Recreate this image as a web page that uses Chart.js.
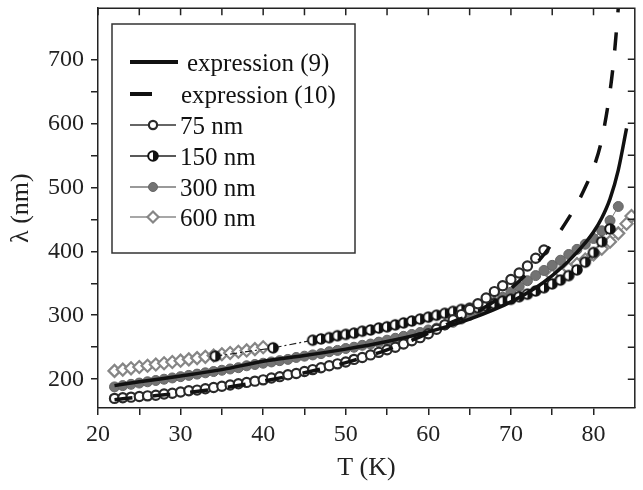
<!DOCTYPE html>
<html>
<head>
<meta charset="utf-8">
<script src="https://cdn.jsdelivr.net/npm/chart.js@4.4.0/dist/chart.umd.min.js"></script>
<style>
  html, body { margin: 0; padding: 0; background: #fff; }
  #wrap { width: 643px; height: 490px; }
</style>
</head>
<body>
<div id="wrap"><canvas id="lambda-chart" width="643" height="490"></canvas></div>
<script>
// expression (9) - solid curve
const tExp9 = [22, 25, 30, 35, 40, 45, 50, 55, 60, 65, 70, 73, 75, 77, 79, 80, 81, 82, 83, 84];
const lExp9 = [190, 196, 205, 215, 228, 237, 247, 259, 274, 294, 321, 343, 362, 385, 413, 430, 452, 482, 527, 592];

// expression (10) - dashed curve
const tExp10 = [22, 25, 30, 35, 40, 45, 50, 55, 60, 63, 65, 68, 70, 72, 74, 76, 78, 79, 80, 81, 82, 82.5, 83];
const lExp10 = [168, 172, 178, 186, 197, 210, 226, 246, 272, 290, 300, 322, 342, 366, 395, 432, 474, 500, 530, 575, 650, 705, 780];

// 75 nm
const t75 = [22, 23, 24, 25, 26, 27, 28, 29, 30, 31, 32, 33, 34, 35, 36, 37, 38, 39, 40, 41, 42, 43, 44, 45, 46, 47, 48,
  49, 50, 51, 52, 53, 54, 55, 56, 57, 58, 59, 60, 61, 62, 63, 64, 65, 66, 67, 68, 69, 70, 71, 72, 73, 74];
const l75 = [170, 171, 172, 173, 174, 175, 177, 178, 180, 182, 183, 185, 187, 189, 191, 193, 195, 197, 199, 202, 204, 207,
  209, 212, 215, 218, 221, 224, 227, 231, 234, 238, 242, 246, 250, 255, 260, 265, 271, 278, 285, 293, 301, 309, 318, 327,
  337, 346, 356, 366, 377, 389, 402];

// 150 nm
const t150 = [34.2, 41.2, 46, 47, 48, 49, 50, 51, 52, 53, 54, 55, 56, 57, 58, 59, 60, 61, 62, 63, 64, 65, 66, 67, 68, 69,
  70, 71, 72, 73, 74, 75, 76, 77, 78, 79, 80, 81, 82];
const l150 = [236, 249, 261, 263, 265, 268, 270, 272, 275, 277, 280, 282, 285, 288, 291, 294, 297, 300, 303, 306, 309, 311,
  312, 315, 318, 322, 325, 329, 333, 338, 343, 349, 355, 362, 371, 383, 398, 415, 435];

// 300 nm
const t300 = [22, 23, 24, 25, 26, 27, 28, 29, 30, 31, 32, 33, 34, 35, 36, 37, 38, 39, 40, 41, 42, 43, 44, 45, 46, 47, 48,
  49, 50, 51, 52, 53, 54, 55, 56, 57, 58, 59, 60, 61, 62, 63, 64, 65, 66, 67, 68, 69, 70, 71, 72, 73, 74, 75, 76, 77, 78,
  79, 80, 81, 82, 83];
const l300 = [188, 190, 192, 194, 196, 198, 200, 202, 204, 206, 208, 210, 212, 214, 216, 218, 221, 223, 225, 227, 229, 231,
  234, 236, 238, 240, 243, 245, 248, 250, 253, 255, 258, 261, 264, 267, 270, 273, 277, 280, 285, 289, 294, 300, 306, 313,
  320, 328, 336, 345, 354, 362, 370, 378, 386, 395, 403, 411, 420, 432, 448, 470];

// 600 nm (no visible points between ~40 K and ~75 K)
const t600 = [22, 23, 24, 25, 26, 27, 28, 29, 30, 31, 32, 33, 34, 35, 36, 37, 38, 39, 40, 57, 75, 76, 77, 78, 79, 80, 81,
  82, 83, 84, 84.6];
const l600 = [213, 215, 217, 219, 221, 223, 225, 227, 229, 231, 233, 235, 237, 239, 241, 243, 245, 247, 250, null, 362, 367,
  373, 380, 387, 395, 404, 415, 428, 443, 455];

const xTicks = [20, 30, 40, 50, 60, 70, 80];
const yTicks = [200, 300, 400, 500, 600, 700];

const serif = "'Liberation Serif', 'Times New Roman', serif";

function pts(xs, ys) {
  return xs.map((x, i) => ({ x: x, y: ys[i] }));
}

// half filled circle used for the 150 nm markers
function halfDot() {
  const c = document.createElement('canvas');
  c.width = 14; c.height = 14;
  const g = c.getContext('2d');
  g.fillStyle = '#fff';
  g.beginPath(); g.arc(7, 7, 4.8, 0, Math.PI * 2); g.fill();
  g.fillStyle = '#111';
  g.beginPath(); g.arc(7, 7, 4.8, -Math.PI / 2, Math.PI / 2); g.fill();
  g.strokeStyle = '#111'; g.lineWidth = 2;
  g.beginPath(); g.arc(7, 7, 4.8, 0, Math.PI * 2); g.stroke();
  return c;
}
const dot150 = halfDot();

const legendRows = [62, 94, 125, 156, 187, 217];
const legendTextX = [187, 181, 180, 180, 180, 180];

const framePlugin = {
  id: 'frame',
  afterDraw(chart) {
    const { ctx, chartArea: a, scales } = chart;
    ctx.save();
    ctx.strokeStyle = '#222';
    ctx.lineWidth = 1.5;
    ctx.beginPath();
    ctx.moveTo(a.left, a.top);
    ctx.lineTo(a.right, a.top);
    ctx.lineTo(a.right, a.bottom);
    scales.x.ticks.forEach(t => {
      const px = scales.x.getPixelForValue(t.value);
      ctx.moveTo(px, a.top);
      ctx.lineTo(px, a.top + 7);
    });
    scales.y.ticks.forEach(t => {
      const py = scales.y.getPixelForValue(t.value);
      ctx.moveTo(a.right, py);
      ctx.lineTo(a.right - 7, py);
    });
    ctx.stroke();
    ctx.restore();
  }
};

const legendPlugin = {
  id: 'boxLegend',
  afterDraw(chart) {
    const ctx = chart.ctx;
    ctx.save();
    ctx.fillStyle = '#fff';
    ctx.fillRect(112, 24, 243, 229);
    ctx.strokeStyle = '#333';
    ctx.lineWidth = 1.5;
    ctx.strokeRect(112, 24, 243, 229);

    chart.data.datasets.forEach((ds, i) => {
      const y = legendRows[i];
      ctx.setLineDash([]);
      ctx.strokeStyle = ds.borderColor;
      if (ds.pointRadius === 0) {
        ctx.lineWidth = 4;
        ctx.beginPath();
        ctx.moveTo(130, y);
        ctx.lineTo(ds.borderDash ? 152 : 178, y);
        ctx.stroke();
      } else {
        ctx.lineWidth = 1.5;
        ctx.beginPath();
        ctx.moveTo(130, y);
        ctx.lineTo(176, y);
        ctx.stroke();
        ctx.fillStyle = ds.pointBackgroundColor;
        ctx.strokeStyle = ds.pointBorderColor;
        ctx.lineWidth = ds.pointBorderWidth;
        Chart.helpers.drawPoint(ctx, {
          pointStyle: ds.pointStyle,
          radius: ds.pointRadius - 0.5,
          rotation: 0,
          borderWidth: ds.pointBorderWidth
        }, 153, y);
      }
      ctx.fillStyle = '#111';
      ctx.font = '25px ' + serif;
      ctx.textBaseline = 'middle';
      ctx.textAlign = 'left';
      ctx.fillText(ds.label, legendTextX[i], y + 2);
    });
    ctx.restore();
  }
};

const ctx = document.getElementById('lambda-chart').getContext('2d');
const lambdaChart = new Chart(ctx, {
  type: 'scatter',
  data: {
    datasets: [
      {
        label: 'expression (9)',
        data: pts(tExp9, lExp9),
        showLine: true,
        borderColor: '#111',
        borderWidth: 3.5,
        pointRadius: 0,
        cubicInterpolationMode: 'monotone',
        order: 0
      },
      {
        label: 'expression (10)',
        data: pts(tExp10, lExp10),
        showLine: true,
        borderColor: '#111',
        borderWidth: 3.5,
        borderDash: [18, 20],
        pointRadius: 0,
        cubicInterpolationMode: 'monotone',
        order: 1
      },
      {
        label: '75 nm',
        data: pts(t75, l75),
        showLine: true,
        borderColor: '#333',
        borderWidth: 1,
        pointStyle: 'circle',
        pointRadius: 4.6,
        pointBorderWidth: 2.2,
        pointBorderColor: '#2a2a2a',
        pointBackgroundColor: '#fff',
        order: 2
      },
      {
        label: '150 nm',
        data: pts(t150, l150),
        showLine: true,
        borderColor: '#222',
        borderWidth: 1.2,
        borderDash: [7, 3, 2, 3],
        pointStyle: dot150,
        pointRadius: 5,
        pointBorderWidth: 2,
        pointBorderColor: '#111',
        pointBackgroundColor: '#111',
        order: 3
      },
      {
        label: '300 nm',
        data: pts(t300, l300),
        showLine: true,
        borderColor: '#777',
        borderWidth: 1,
        pointStyle: 'circle',
        pointRadius: 5,
        pointBorderWidth: 1,
        pointBorderColor: '#666',
        pointBackgroundColor: '#737373',
        order: 4
      },
      {
        label: '600 nm',
        data: pts(t600, l600),
        showLine: true,
        spanGaps: false,
        borderColor: '#8a8a8a',
        borderWidth: 1.2,
        pointStyle: 'rectRot',
        pointRadius: 6,
        pointBorderWidth: 2.2,
        pointBorderColor: '#868686',
        pointBackgroundColor: '#fff',
        order: 5
      }
    ]
  },
  options: {
    responsive: false,
    animation: false,
    devicePixelRatio: 1,
    layout: { padding: { top: 8, right: 2, left: 0, bottom: 0 } },
    plugins: {
      legend: { display: false },
      tooltip: { enabled: false }
    },
    scales: {
      x: {
        type: 'linear',
        min: 20,
        max: 85,
        afterFit: scale => {
          scale.height = 82;
          scale.paddingLeft = 0;
          scale.paddingRight = 0;
        },
        afterBuildTicks: scale => {
          scale.ticks = scale.ticks.filter(t => t.value % 5 === 0 && t.value <= 80);
        },
        ticks: {
          stepSize: 5,
          autoSkip: false,
          maxRotation: 0,
          padding: 5,
          color: '#222',
          font: { family: serif, size: 24 },
          callback: v => xTicks.includes(v) ? String(v) : ''
        },
        grid: { drawOnChartArea: false, tickLength: 7, color: '#222', lineWidth: 1.5 },
        border: { display: true, color: '#222', width: 1.5 },
        title: {
          display: true,
          text: 'T (K)',
          color: '#222',
          font: { family: serif, size: 26 },
          padding: { top: 0, bottom: 6 }
        }
      },
      y: {
        type: 'linear',
        min: 155,
        max: 780,
        afterFit: scale => {
          scale.width = 98;
          scale.paddingTop = 0;
          scale.paddingBottom = 0;
        },
        afterBuildTicks: scale => {
          scale.ticks = scale.ticks.filter(t => t.value % 50 === 0);
        },
        ticks: {
          stepSize: 50,
          autoSkip: false,
          padding: 7,
          color: '#222',
          font: { family: serif, size: 24 },
          callback: v => yTicks.includes(v) ? String(v) : ''
        },
        grid: { drawOnChartArea: false, tickLength: 7, color: '#222', lineWidth: 1.5 },
        border: { display: true, color: '#222', width: 1.5 },
        title: {
          display: true,
          text: 'λ (nm)',
          color: '#222',
          font: { family: serif, size: 26 },
          padding: { top: 6, bottom: 0 }
        }
      }
    }
  },
  plugins: [framePlugin, legendPlugin]
});
</script>
</body>
</html>
